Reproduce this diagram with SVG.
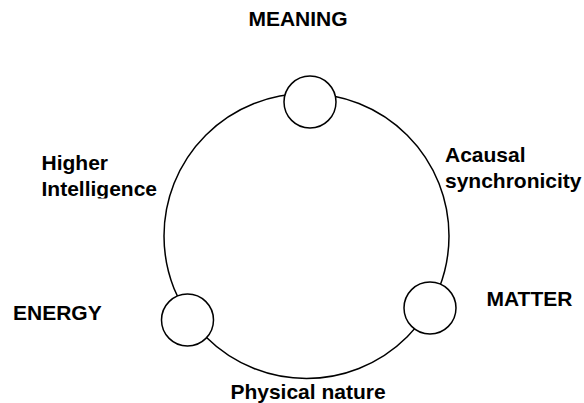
<svg xmlns="http://www.w3.org/2000/svg" width="584" height="403" viewBox="0 0 584 403">
<style>
.lbl{font-family:"Liberation Sans",Arial,sans-serif;font-weight:bold;font-size:21px;fill:#000}
.ring{fill:none;stroke:#000;stroke-width:1.5}
.node{fill:#fff;stroke:#000;stroke-width:1.5}
</style>
<defs>
<clipPath id="clipHI"><rect x="0" y="140" width="200" height="58.5"/></clipPath>
</defs>
<rect width="584" height="403" fill="#fff"/>
<g id="connectors">
<circle class="ring" cx="306.5" cy="236" r="142.5"/>
</g>
<g id="node-meaning">
<circle class="node" cx="310" cy="102" r="26"/>
</g>
<g id="node-energy">
<circle class="node" cx="187.5" cy="320" r="26"/>
</g>
<g id="node-matter">
<circle class="node" cx="430" cy="308" r="26"/>
</g>
<g id="labels">
<text class="lbl" x="298" y="26" text-anchor="middle">MEANING</text>
<g clip-path="url(#clipHI)">
<text class="lbl" x="41.5" y="170">Higher</text>
<text class="lbl" x="41.5" y="196">Intelligence</text>
</g>
<text class="lbl" x="445" y="162">Acausal</text>
<text class="lbl" x="445" y="188">synchronicity</text>
<text class="lbl" x="13" y="320">ENERGY</text>
<text class="lbl" x="486.5" y="306">MATTER</text>
<text class="lbl" x="308" y="399" text-anchor="middle">Physical nature</text>
</g>
</svg>
